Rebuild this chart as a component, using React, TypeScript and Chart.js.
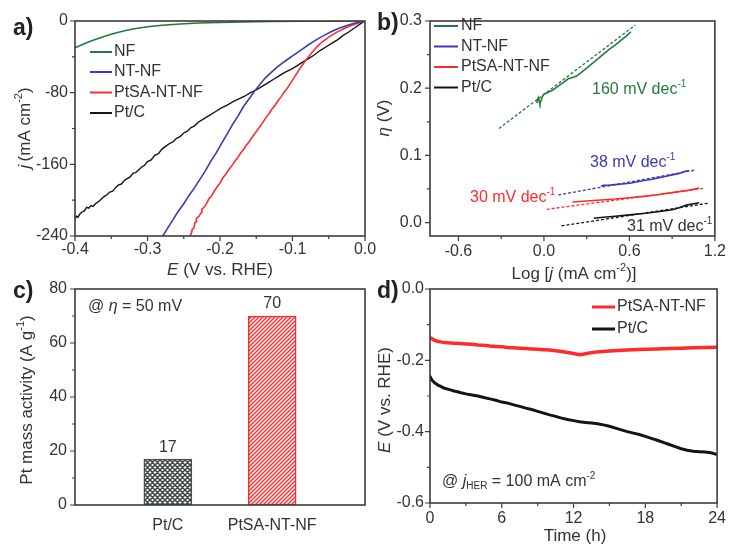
import React, { useEffect, useRef } from 'react';
import { Chart, registerables } from 'chart.js';

Chart.register(...registerables);

const W = 732;
const H = 546;
const FONT = '"Liberation Sans", Arial, Helvetica, sans-serif';
const TXT = '#333333';
const AXC = '#3c3c3c';
const GREEN = '#237a3e';
const BLUE = '#3a3ab4';
const RED = '#ff2b2b';
const BLACK = '#141414';

// ---------- a) polarization curves: [E (V vs RHE), j (mA cm-2)]
const seriesLabels = ['NF', 'NT-NF', 'PtSA-NT-NF', 'Pt/C'];
const aXTicks = [-0.4, -0.3, -0.2, -0.1, 0];
const aXMinor = [-0.35, -0.25, -0.15, -0.05];
const aYTicks = [-240, -160, -80, 0];
const aYMinor = [-200, -120, -40];

const lsvNF: [number, number][] = [
  [-0.4, -30], [-0.392, -27], [-0.384, -24.3], [-0.376, -21.8], [-0.368, -19.4], [-0.36, -17.2],
  [-0.35, -14.8], [-0.34, -12.5], [-0.33, -10.5], [-0.32, -8.9], [-0.3, -6.4], [-0.28, -4.8],
  [-0.255, -3.3], [-0.23, -2.3], [-0.2, -1.5], [-0.17, -1.0], [-0.13, -0.6], [-0.09, -0.35],
  [-0.05, -0.15], [-0.02, -0.05], [0, 0],
];
const lsvNTNF: [number, number][] = [
  [-0.279, -240], [-0.272, -231], [-0.265, -222], [-0.258, -213], [-0.25, -204], [-0.243, -195],
  [-0.235, -186], [-0.228, -177], [-0.22, -167], [-0.213, -157], [-0.205, -147], [-0.198, -137],
  [-0.19, -126], [-0.183, -116], [-0.175, -106], [-0.168, -96], [-0.16, -87], [-0.153, -79],
  [-0.145, -71], [-0.138, -64], [-0.13, -58], [-0.122, -52], [-0.115, -47.5], [-0.107, -43],
  [-0.1, -39], [-0.092, -34.5], [-0.085, -30.5], [-0.077, -26], [-0.07, -22.5], [-0.062, -18.5],
  [-0.055, -15.5], [-0.047, -12], [-0.04, -9.5], [-0.032, -7], [-0.025, -5], [-0.017, -3],
  [-0.01, -1.6], [-0.004, -0.5], [0, 0],
];
const lsvPtSA: [number, number][] = [
  [-0.2414, -240], [-0.239, -236], [-0.2385, -233], [-0.236, -231], [-0.235, -226], [-0.233, -224],
  [-0.2325, -220], [-0.229, -218], [-0.226, -214], [-0.225, -210], [-0.222, -208], [-0.218, -203],
  [-0.215, -198], [-0.212, -196], [-0.208, -190], [-0.204, -185], [-0.2, -181], [-0.196, -175],
  [-0.192, -171], [-0.188, -166], [-0.184, -162], [-0.18, -157], [-0.176, -153], [-0.172, -148],
  [-0.168, -144], [-0.164, -139], [-0.16, -135], [-0.156, -130], [-0.152, -126], [-0.148, -121],
  [-0.144, -117], [-0.14, -112], [-0.136, -107], [-0.132, -103], [-0.128, -98], [-0.124, -94],
  [-0.12, -89], [-0.116, -85], [-0.112, -80], [-0.108, -76], [-0.104, -71], [-0.1, -66],
  [-0.096, -61], [-0.092, -56], [-0.088, -51], [-0.084, -46.5], [-0.08, -42], [-0.076, -38],
  [-0.072, -34], [-0.068, -30.5], [-0.064, -27], [-0.06, -24], [-0.055, -21], [-0.05, -18],
  [-0.045, -15.5], [-0.04, -13], [-0.035, -11], [-0.03, -9], [-0.025, -7], [-0.02, -5.3],
  [-0.015, -3.8], [-0.01, -2.4], [-0.005, -1.1], [0, 0],
];
const lsvPtC: [number, number][] = [
  [-0.4, -221], [-0.398, -218], [-0.396, -219], [-0.393, -215], [-0.39, -213], [-0.387, -212],
  [-0.384, -208], [-0.381, -209], [-0.378, -206], [-0.375, -207], [-0.372, -204], [-0.368, -202],
  [-0.364, -199], [-0.36, -196], [-0.356, -194], [-0.352, -191], [-0.348, -190], [-0.344, -186],
  [-0.34, -183], [-0.336, -182], [-0.332, -178], [-0.328, -176], [-0.324, -174], [-0.32, -170],
  [-0.316, -169], [-0.312, -166], [-0.308, -163], [-0.304, -161], [-0.3, -157], [-0.295, -155],
  [-0.29, -150], [-0.285, -148], [-0.28, -143], [-0.275, -140], [-0.27, -137], [-0.265, -135],
  [-0.26, -131], [-0.255, -129], [-0.25, -125], [-0.245, -123], [-0.24, -119], [-0.235, -117],
  [-0.23, -113], [-0.222, -109], [-0.214, -105], [-0.206, -101], [-0.198, -97], [-0.19, -94],
  [-0.182, -90], [-0.174, -87], [-0.166, -84], [-0.158, -80], [-0.15, -77], [-0.142, -73],
  [-0.134, -69], [-0.126, -65], [-0.118, -61], [-0.11, -57], [-0.102, -54], [-0.094, -50],
  [-0.086, -46], [-0.078, -42], [-0.07, -38], [-0.062, -33], [-0.054, -29], [-0.046, -25],
  [-0.038, -21], [-0.03, -16], [-0.022, -12], [-0.014, -7.5], [-0.006, -3], [0, 0],
];

// ---------- b) Tafel plots: [log j, eta (V)]
const bXTicks = [-0.6, 0, 0.6, 1.2];
const bXMinor = [-0.3, 0.3, 0.9];
const bYTicks = [0, 0.1, 0.2, 0.3];
const bYMinor = [0.05, 0.15, 0.25];
const tafelNF: [number, number][] = [
  [-0.05, 0.178], [-0.045, 0.183], [-0.04, 0.186], [-0.033, 0.181], [-0.028, 0.177], [-0.02, 0.182],
  [-0.01, 0.188], [0.0, 0.191], [0.03, 0.194], [0.06, 0.197], [0.1, 0.203], [0.14, 0.209],
  [0.17, 0.214], [0.2, 0.216], [0.23, 0.218], [0.26, 0.223], [0.3, 0.23], [0.34, 0.237],
  [0.38, 0.244], [0.42, 0.251], [0.46, 0.258], [0.5, 0.264], [0.54, 0.271], [0.58, 0.278], [0.61, 0.284],
];
const tafelNTNF: [number, number][] = [
  [0.4, 0.0545], [0.42, 0.0555], [0.45, 0.0555], [0.5, 0.0565], [0.55, 0.0575], [0.6, 0.0585],
  [0.65, 0.0605], [0.7, 0.0625], [0.75, 0.064], [0.8, 0.0665], [0.85, 0.0685], [0.9, 0.071],
  [0.95, 0.073], [0.98, 0.0755], [1.0, 0.0765], [1.02, 0.077],
];
const tafelPtSA: [number, number][] = [
  [0.2, 0.0305], [0.3, 0.032], [0.4, 0.0335], [0.5, 0.035], [0.6, 0.037], [0.7, 0.039],
  [0.8, 0.0415], [0.9, 0.0445], [1.0, 0.0475], [1.05, 0.0495], [1.09, 0.0515],
];
const tafelPtC: [number, number][] = [
  [0.35, 0.0065], [0.4, 0.0075], [0.5, 0.0095], [0.6, 0.0115], [0.7, 0.0135], [0.8, 0.016],
  [0.85, 0.0175], [0.9, 0.019], [0.95, 0.022], [1.0, 0.026], [1.05, 0.028], [1.09, 0.0295],
];
const fitNF: [number, number][] = [[-0.316, 0.14], [0.642, 0.294]];
const fitNTNF: [number, number][] = [[0.1, 0.041], [1.057, 0.078]];
const fitPtSA: [number, number][] = [[0.019, 0.0197], [1.125, 0.051]];
const fitPtC: [number, number][] = [[0.123, -0.005], [1.149, 0.0287]];
const tafelSlopes = ['160', '38', '30', '31'];

// ---------- c) mass activity
const barCats = ['Pt/C', 'PtSA-NT-NF'];
const barVals = [17, 70];
const cYTicks = [0, 20, 40, 60, 80];
const cYMinor = [10, 30, 50, 70];

// ---------- d) stability: [time (h), E (V vs RHE)]
const dXTicks = [0, 6, 12, 18, 24];
const dXMinor = [3, 9, 15, 21];
const dYTicks = [-0.6, -0.4, -0.2, 0];
const dYMinor = [-0.5, -0.3, -0.1];
const stabLabels = ['PtSA-NT-NF', 'Pt/C'];
const stabPtSA: [number, number][] = [
  [0, -0.136], [0.2, -0.14], [0.4, -0.144], [0.7, -0.147], [1, -0.149], [1.5, -0.151], [2, -0.152],
  [2.5, -0.153], [3, -0.154], [3.5, -0.155], [4, -0.157], [4.5, -0.158], [5, -0.16], [5.5, -0.161],
  [6, -0.162], [6.5, -0.164], [7, -0.165], [7.5, -0.166], [8, -0.167], [8.5, -0.168], [9, -0.169],
  [9.5, -0.17], [10, -0.171], [10.5, -0.173], [11, -0.175], [11.5, -0.178], [12, -0.181],
  [12.5, -0.184], [12.8, -0.183], [13.2, -0.18], [13.8, -0.177], [14.5, -0.175], [15, -0.174],
  [16, -0.172], [17, -0.17], [18, -0.169], [19, -0.168], [20, -0.167], [21, -0.166], [22, -0.165],
  [23, -0.164], [24, -0.163],
];
const stabPtC: [number, number][] = [
  [0, -0.244], [0.1, -0.252], [0.2, -0.257], [0.35, -0.262], [0.5, -0.266], [0.7, -0.27],
  [0.9, -0.273], [1.1, -0.277], [1.4, -0.28], [1.7, -0.283], [2, -0.286], [2.3, -0.288],
  [2.6, -0.291], [3, -0.294], [3.5, -0.297], [4, -0.3], [4.5, -0.304], [5, -0.308], [5.5, -0.312],
  [6, -0.317], [6.5, -0.32], [7, -0.325], [7.5, -0.329], [8, -0.334], [8.5, -0.338], [9, -0.343],
  [9.5, -0.348], [10, -0.353], [10.5, -0.357], [11, -0.362], [11.5, -0.366], [12, -0.369],
  [12.5, -0.372], [13, -0.374], [13.5, -0.376], [14, -0.378], [14.5, -0.381], [15, -0.385],
  [15.5, -0.39], [16, -0.395], [16.5, -0.4], [17, -0.404], [17.5, -0.408], [18, -0.413],
  [18.5, -0.419], [19, -0.424], [19.5, -0.43], [20, -0.436], [20.5, -0.442], [21, -0.448],
  [21.5, -0.452], [22, -0.455], [22.5, -0.456], [23, -0.457], [23.5, -0.459], [24, -0.464],
];

// ---------- helpers
type Seg = { t: string; it?: boolean; sup?: boolean; sub?: boolean; b?: boolean };

function rich(ctx: CanvasRenderingContext2D, segs: Seg[], x: number, y: number, size: number,
  color: string, align: 'left' | 'center' | 'right', rot = 0) {
  ctx.save();
  ctx.translate(x, y);
  if (rot) ctx.rotate(rot);
  ctx.fillStyle = color;
  ctx.textBaseline = 'middle';
  ctx.textAlign = 'left';
  const fontFor = (s: Seg) =>
    `${s.it ? 'italic ' : ''}${s.b ? 'bold ' : ''}${s.sup || s.sub ? Math.round(size * 0.64) : size}px ${FONT}`;
  let total = 0;
  const ws = segs.map((s) => { ctx.font = fontFor(s); const w = ctx.measureText(s.t).width; total += w; return w; });
  let cx = align === 'left' ? 0 : align === 'center' ? -total / 2 : -total;
  segs.forEach((s, i) => {
    ctx.font = fontFor(s);
    const dy = s.sup ? -size * 0.36 : s.sub ? size * 0.28 : 0;
    ctx.fillText(s.t, cx, dy);
    cx += ws[i];
  });
  ctx.restore();
}

const pts = (arr: [number, number][]) => arr.map(([x, y]) => ({ x, y }));

function line(label: string, data: [number, number][], color: string, width: number, dash: number[] = []) {
  return { label, data: pts(data), borderColor: color, backgroundColor: color, borderWidth: width,
    borderDash: dash, pointRadius: 0, fill: false, tension: 0 };
}

const YW = 60;
const XH = 44;
function area(L: number, T: number, R: number, B: number) {
  return { left: L - YW, top: T, right: W - R, bottom: H - B - XH };
}

function axis(kind: 'x' | 'y', min: number, max: number, ticks: number[], fmt: (v: number) => string, pad: number) {
  return {
    type: 'linear', min, max, offset: false,
    afterBuildTicks: (s: any) => { s.ticks = ticks.map((v) => ({ value: v })); },
    afterFit: (s: any) => { if (kind === 'x') s.height = XH; else s.width = YW; },
    grid: { display: false, drawTicks: false },
    border: { display: false },
    ticks: { padding: pad, color: TXT, font: { family: FONT, size: 16 }, autoSkip: false,
      maxRotation: 0, minRotation: 0, callback: (v: any) => fmt(Number(v)) },
  };
}

function baseOptions(padding: any, x: any, y: any) {
  return {
    responsive: false, animation: false, events: [],
    layout: { padding },
    plugins: { legend: { display: false }, tooltip: { enabled: false }, title: { display: false } },
    scales: { x, y },
  };
}

function decor(spec: { xMaj: number[]; xMin: number[]; yMaj: number[]; yMin: number[];
  draw: (c: any, ctx: CanvasRenderingContext2D) => void }) {
  return {
    id: 'decor',
    afterDraw(chart: any) {
      const ctx: CanvasRenderingContext2D = chart.ctx;
      const a = chart.chartArea;
      const x = chart.scales.x;
      const y = chart.scales.y;
      ctx.save();
      ctx.strokeStyle = AXC;
      ctx.lineWidth = 1.2;
      ctx.beginPath();
      const tx = (v: number, len: number) => { const p = x.getPixelForValue(v); ctx.moveTo(p, a.bottom); ctx.lineTo(p, a.bottom + len); };
      const ty = (v: number, len: number) => { const p = y.getPixelForValue(v); ctx.moveTo(a.left, p); ctx.lineTo(a.left - len, p); };
      spec.xMaj.forEach((v) => tx(v, 5));
      spec.xMin.forEach((v) => tx(v, 3));
      spec.yMaj.forEach((v) => ty(v, 5));
      spec.yMin.forEach((v) => ty(v, 3));
      ctx.stroke();
      ctx.lineWidth = 1.6;
      ctx.strokeRect(a.left, a.top, a.right - a.left, a.bottom - a.top);
      ctx.restore();
      spec.draw(chart, ctx);
    },
  };
}

function legend(ctx: CanvasRenderingContext2D, chart: any, idx: number[], x0: number, x1: number,
  tx: number, ys: number[], lw: number) {
  idx.forEach((di, k) => {
    const ds = chart.data.datasets[di];
    ctx.save();
    ctx.strokeStyle = ds.borderColor;
    ctx.lineWidth = lw;
    ctx.beginPath();
    ctx.moveTo(x0, ys[k]);
    ctx.lineTo(x1, ys[k]);
    ctx.stroke();
    ctx.restore();
    rich(ctx, [{ t: ds.label }], tx, ys[k], 16, TXT, 'left');
  });
}

const f1 = (v: number) => v.toFixed(1);
const f0 = (v: number) => String(Math.round(v));
const ROT = -Math.PI / 2;
const TITLE = 17;

function makePattern(kind: 'cross' | 'diag', color: string) {
  const s = kind === 'cross' ? 5 : 4;
  const c = document.createElement('canvas');
  c.width = s; c.height = s;
  const g = c.getContext('2d')!;
  g.fillStyle = '#ffffff';
  g.fillRect(0, 0, s, s);
  g.strokeStyle = color;
  g.lineWidth = kind === 'cross' ? 1.5 : 1.4;
  g.beginPath();
  for (let k = -1; k <= 1; k++) {
    g.moveTo(k * s - 1, s + 1); g.lineTo(k * s + s + 1, -1);
    if (kind === 'cross') { g.moveTo(k * s - 1, -1); g.lineTo(k * s + s + 1, s + 1); }
  }
  g.stroke();
  return g.createPattern(c, 'repeat')!;
}

function cfgA(): any {
  return {
    type: 'line',
    data: { datasets: [
      line(seriesLabels[0], lsvNF, GREEN, 1.6),
      line(seriesLabels[1], lsvNTNF, BLUE, 1.6),
      line(seriesLabels[2], lsvPtSA, RED, 1.6),
      line(seriesLabels[3], lsvPtC, BLACK, 1.4),
    ] },
    options: baseOptions(area(75, 21, 365, 236),
      axis('x', -0.4, 0, aXTicks, f1, 4), axis('y', -240, 0, aYTicks, f0, 7)),
    plugins: [decor({ xMaj: aXTicks, xMin: aXMinor, yMaj: aYTicks, yMin: aYMinor, draw: (chart, ctx) => {
      rich(ctx, [{ t: 'a)', b: true }], 13, 29, 23, '#222', 'left');
      rich(ctx, [{ t: 'E', it: true }, { t: ' (V vs. RHE)' }], 220, 270, TITLE, TXT, 'center');
      rich(ctx, [{ t: 'j', it: true }, { t: '\u2009(mA cm' }, { t: '-2', sup: true }, { t: ')' }], 25, 128, TITLE, TXT, 'center', ROT);
      legend(ctx, chart, [0, 1, 2, 3], 90, 112, 114, [52, 72, 92.5, 113], 2);
    } })],
  };
}

function cfgB(): any {
  const dash = [3, 2];
  return {
    type: 'line',
    data: { datasets: [
      line(seriesLabels[0], tafelNF, GREEN, 1.6),
      line(seriesLabels[1], tafelNTNF, BLUE, 1.6),
      line(seriesLabels[2], tafelPtSA, RED, 1.6),
      line(seriesLabels[3], tafelPtC, BLACK, 1.6),
      line('NF fit', fitNF, GREEN, 1.3, dash),
      line('NT-NF fit', fitNTNF, BLUE, 1.3, dash),
      line('PtSA-NT-NF fit', fitPtSA, RED, 1.3, dash),
      line('Pt/C fit', fitPtC, BLACK, 1.3, dash),
    ] },
    options: baseOptions(area(430, 21, 719, 236),
      axis('x', -0.8, 1.2, bXTicks, f1, 6), axis('y', -0.02, 0.3, bYTicks, f1, 8)),
    plugins: [decor({ xMaj: bXTicks, xMin: bXMinor, yMaj: bYTicks, yMin: bYMinor, draw: (chart, ctx) => {
      rich(ctx, [{ t: 'b)', b: true }], 377, 24, 23, '#222', 'left');
      rich(ctx, [{ t: 'Log [' }, { t: 'j', it: true }, { t: ' (mA cm' }, { t: '-2', sup: true }, { t: ')]' }], 574, 274, TITLE, TXT, 'center');
      rich(ctx, [{ t: 'η', it: true }, { t: ' (V)' }], 384, 118, TITLE, TXT, 'center', ROT);
      legend(ctx, chart, [0, 1, 2, 3], 434, 458, 461, [26, 46.5, 67, 87.5], 2);
      const ann: [number, number, number, string][] = [[0, 592, 90, GREEN], [1, 590, 163, BLUE], [2, 470, 198, RED], [3, 627, 227, BLACK]];
      ann.forEach(([i, x, y, col]) => {
        rich(ctx, [{ t: `${tafelSlopes[i]} mV dec` }, { t: '-1', sup: true }], x, y, 16, col === BLACK ? TXT : col, 'left');
      });
    } })],
  };
}

function cfgC(): any {
  const pats = [makePattern('cross', '#3d4545'), makePattern('diag', '#ff2b2b')];
  return {
    type: 'bar',
    data: { datasets: [{
      label: 'Pt mass activity',
      data: barVals.map((v, i) => ({ x: i + 1, y: v })),
      backgroundColor: pats,
      borderColor: ['#475050', '#ff2b2b'],
      borderWidth: 1.5,
      borderSkipped: false,
      barThickness: 48,
    }] },
    options: baseOptions(area(75, 289, 365, 505),
      axis('x', 0.11, 2.89, [1, 2], (v) => barCats[Math.round(v) - 1] ?? '', 11),
      axis('y', 0, 80, cYTicks, f0, 8)),
    plugins: [decor({ xMaj: [], xMin: [], yMaj: cYTicks, yMin: cYMinor, draw: (chart, ctx) => {
      rich(ctx, [{ t: 'c)', b: true }], 13, 292, 23, '#222', 'left');
      rich(ctx, [{ t: 'Pt mass activity (A g' }, { t: '-1', sup: true }, { t: ')' }], 27, 400, TITLE, TXT, 'center', ROT);
      rich(ctx, [{ t: '@ ' }, { t: 'η', it: true }, { t: ' = 50 mV' }], 88, 307, 16, TXT, 'left');
      const meta = chart.getDatasetMeta(0);
      meta.data.forEach((el: any, i: number) => {
        rich(ctx, [{ t: String(barVals[i]) }], el.x, el.y - 12, 16, TXT, 'center');
      });
    } })],
  };
}

function cfgD(): any {
  return {
    type: 'line',
    data: { datasets: [
      line(stabLabels[0], stabPtSA, RED, 3.5),
      line(stabLabels[1], stabPtC, BLACK, 3),
    ] },
    options: baseOptions(area(430, 289, 719, 503),
      axis('x', 0, 24, dXTicks, f0, 6), axis('y', -0.6, 0, dYTicks, f1, 6)),
    plugins: [decor({ xMaj: dXTicks, xMin: dXMinor, yMaj: dYTicks, yMin: dYMinor, draw: (chart, ctx) => {
      rich(ctx, [{ t: 'd)', b: true }], 377, 292, 23, '#222', 'left');
      rich(ctx, [{ t: 'Time (h)' }], 575, 536, TITLE, TXT, 'center');
      rich(ctx, [{ t: 'E', it: true }, { t: ' (V vs. RHE)' }], 385, 400, TITLE, TXT, 'center', ROT);
      legend(ctx, chart, [0, 1], 592, 615, 617, [307, 329], 3);
      rich(ctx, [{ t: '@ ' }, { t: 'j', it: true }, { t: 'HER', sub: true }, { t: ' = 100 mA cm' }, { t: '-2', sup: true }], 442, 482, 16, TXT, 'left');
    } })],
  };
}

export default function App() {
  const ra = useRef<HTMLCanvasElement>(null);
  const rb = useRef<HTMLCanvasElement>(null);
  const rc = useRef<HTMLCanvasElement>(null);
  const rd = useRef<HTMLCanvasElement>(null);

  useEffect(() => {
    const charts = [
      new Chart(ra.current!, cfgA()),
      new Chart(rb.current!, cfgB()),
      new Chart(rc.current!, cfgC()),
      new Chart(rd.current!, cfgD()),
    ];
    return () => charts.forEach((c) => c.destroy());
  }, []);

  const cs: React.CSSProperties = { position: 'absolute', left: 0, top: 0, width: W, height: H };
  return (
    <div style={{ position: 'absolute', left: 0, top: 0, width: W, height: H, background: '#ffffff', overflow: 'hidden' }}>
      <canvas ref={ra} width={W} height={H} style={cs} />
      <canvas ref={rb} width={W} height={H} style={cs} />
      <canvas ref={rc} width={W} height={H} style={cs} />
      <canvas ref={rd} width={W} height={H} style={cs} />
    </div>
  );
}
